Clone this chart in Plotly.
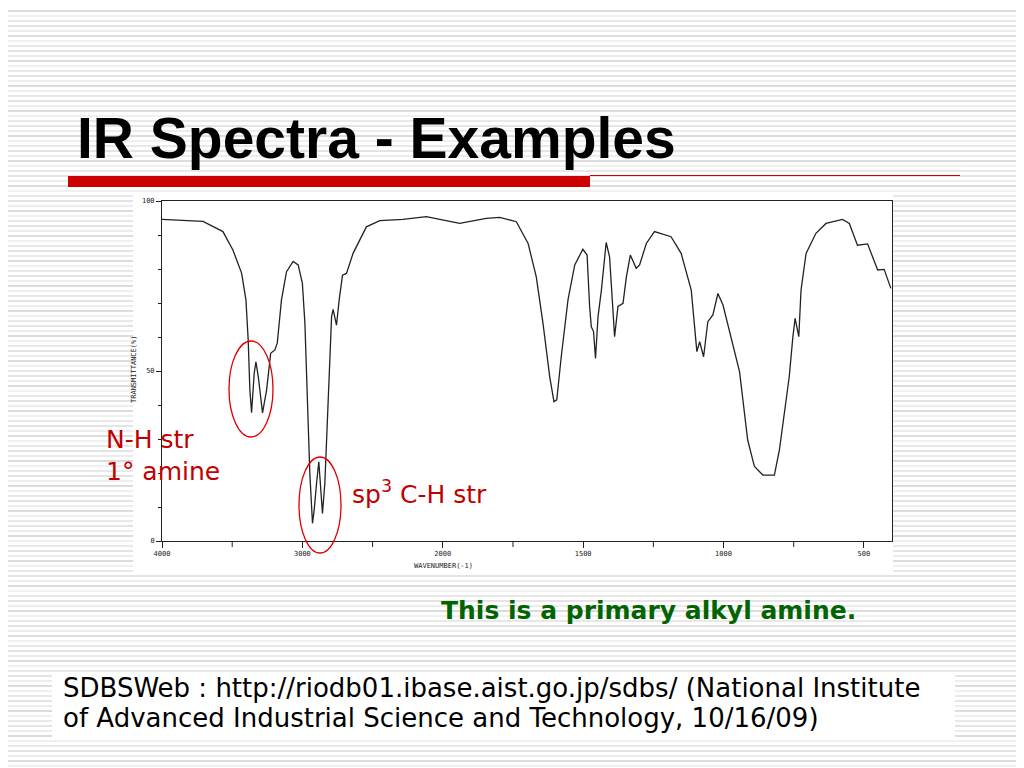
import plotly.graph_objects as go

# spectrum (wavenumber cm-1, transmittance %)
wavenumber = [4000, 3708, 3566, 3495, 3433, 3402, 3386, 3374, 3362, 3343, 3331, 3314, 3284, 3255,
              3226, 3196, 3179, 3149, 3113, 3066, 3030, 3000, 2982, 2966, 2947, 2928, 2916, 2899,
              2883, 2872, 2857, 2840, 2816, 2792, 2781, 2757, 2738, 2714, 2686, 2639, 2544, 2449,
              2283, 2117, 2021, 1940, 1845, 1797, 1738, 1696, 1667, 1643, 1619, 1604, 1594, 1578,
              1554, 1530, 1501, 1486, 1477, 1471, 1463, 1456, 1447, 1435, 1418, 1406, 1388, 1376,
              1358, 1346, 1332, 1311, 1299, 1275, 1246, 1187, 1151, 1115, 1095, 1085, 1071, 1056,
              1038, 1020, 1002, 973, 943, 914, 890, 860, 819, 801, 780, 766, 753, 745, 732, 724,
              706, 671, 635, 576, 552, 523, 487, 451, 428, 404]
transmittance = [94.6, 94.0, 91.0, 85.6, 78.8, 70.9, 59.0, 44.4, 37.7, 49.4, 52.7, 48.3, 37.7, 44.4,
                 55.2, 56.2, 58.2, 70.9, 79.2, 82.2, 81.2, 75.8, 64.0, 44.4, 19.9, 5.2, 9.1, 17.0,
                 23.3, 17.0, 8.1, 17.0, 44.4, 66.0, 68.1, 63.5, 70.9, 78.2, 78.7, 84.6, 92.4, 94.2,
                 94.6, 95.4, 94.6, 93.4, 94.9, 95.2, 93.9, 87.5, 77.7, 64.0, 48.3, 41.0, 41.5, 54.2,
                 70.9, 81.2, 85.8, 84.1, 69.0, 63.0, 61.6, 53.7, 66.0, 73.8, 87.8, 83.6, 60.1, 69.0,
                 69.9, 77.7, 84.1, 80.2, 81.2, 87.5, 91.0, 89.5, 84.6, 73.8, 55.7, 58.6, 54.2, 64.5,
                 66.5, 72.8, 69.4, 60.1, 49.8, 29.7, 21.9, 19.4, 19.4, 26.8, 39.5, 48.3, 60.1, 65.5,
                 60.1, 73.8, 84.6, 90.5, 93.4, 94.6, 93.4, 87.0, 87.4, 79.7, 79.9, 74.3]

x_ticks = [4000, 3000, 2000, 1500, 1000, 500]
minor_ticks = [3500, 2500, 1750, 1250, 750]
y_ticks = [0, 50, 100]


def pos(w):
    # SDBS charts switch scale at 2000 cm-1 (half compression above)
    return (4000 - w) / 2 if w >= 2000 else 1000 + (2000 - w)


L, T, W, H = 162, 201, 730, 340
OFF = 8  # page body margin


def px(x):
    return (x - L) / W


def py(y):
    return (T + H - y) / H


fig = go.Figure()
fig.add_trace(go.Scatter(x=[pos(w) for w in wavenumber], y=transmittance, mode="lines",
                         line=dict(color="#222", width=1.3), showlegend=False))

shapes = []
# striped slide background
greys = ["#e4e4e4", "#ececec", "#dcdcdc", "#f0f0f0", "#e8e8e8"]
for i, yy in enumerate(range(0, 768, 5)):
    shapes.append(dict(type="rect", xref="paper", yref="paper", layer="below",
                       x0=px(0), x1=px(1024), y0=py(yy + 2), y1=py(yy), line_width=0,
                       fillcolor=greys[i % len(greys)]))
# white panel behind spectrum
shapes.append(dict(type="rect", xref="paper", yref="paper", layer="below",
                   x0=px(133), x1=px(893), y0=py(572), y1=py(195), line_width=0, fillcolor="white"))
# red title bar and thin rule
shapes.append(dict(type="rect", xref="paper", yref="paper", x0=px(68), x1=px(590),
                   y0=py(187), y1=py(176), line_width=0, fillcolor="#cc0000"))
shapes.append(dict(type="line", xref="paper", yref="paper", x0=px(590), x1=px(960),
                   y0=py(175.5), y1=py(175.5), line=dict(color="#cc0000", width=1)))
# reference text box
shapes.append(dict(type="rect", xref="paper", yref="paper", layer="below", x0=px(52), x1=px(955),
                   y0=py(740), y1=py(672), line_width=0, fillcolor="white"))
# circled peaks
for cx, cy, rw, rh in [(251, 389, 22, 48), (320, 505, 21, 48)]:
    shapes.append(dict(type="circle", xref="paper", yref="paper", x0=px(cx - rw), x1=px(cx + rw),
                       y0=py(cy + rh), y1=py(cy - rh), line=dict(color="#e00000", width=1.3)))
# minor x ticks
for w in minor_ticks:
    shapes.append(dict(type="line", xref="x", yref="paper", x0=pos(w), x1=pos(w),
                       y0=0, y1=py(547), line=dict(color="#222", width=1)))

red = dict(family="DejaVu Sans", size=25, color="#c00000")
ann = [
    dict(x=px(75), y=py(138), text="<b>IR Spectra - Examples</b>", xanchor="left",
         font=dict(family="Liberation Sans", size=57, color="black")),
    dict(x=px(104), y=py(439), text="N-H str", xanchor="left", font=red),
    dict(x=px(104), y=py(471), text="1° amine", xanchor="left", font=red),
    dict(x=px(350), y=py(492), text="sp<sup>3</sup> C-H str", xanchor="left", font=red),
    dict(x=px(648), y=py(610), text="<b>This is a primary alkyl amine.</b>", xanchor="center",
         font=dict(family="DejaVu Sans", size=25, color="#006400")),
    dict(x=px(61), y=py(688), text="SDBSWeb : http://riodb01.ibase.aist.go.jp/sdbs/ (National Institute",
         xanchor="left", font=dict(family="DejaVu Sans", size=26, color="black")),
    dict(x=px(61), y=py(718), text="of Advanced Industrial Science and Technology, 10/16/09)",
         xanchor="left", font=dict(family="DejaVu Sans", size=26, color="black")),
    dict(x=px(443), y=py(566), text="WAVENUMBER(-1)", xanchor="center",
         font=dict(family="DejaVu Sans Mono", size=7, color="#222")),
    dict(x=px(134), y=py(370), text="TRANSMITTANCE(%)", textangle=-90, xanchor="center",
         font=dict(family="DejaVu Sans Mono", size=7, color="#222")),
]
for a in ann:
    a.update(xref="paper", yref="paper", showarrow=False, yanchor="middle")

fig.update_layout(
    width=1024, height=768,
    margin=dict(l=L - OFF, r=1024 - L - W + OFF, t=T - OFF, b=768 - T - H + OFF),
    paper_bgcolor="white", plot_bgcolor="rgba(0,0,0,0)",
    shapes=shapes, annotations=ann,
    xaxis=dict(range=[0, pos(400)], tickvals=[pos(w) for w in x_ticks], ticktext=[str(w) for w in x_ticks],
               showgrid=False, zeroline=False, showline=True, mirror=True, linecolor="#222",
               ticks="outside", ticklen=6, tickcolor="#222",
               tickfont=dict(family="DejaVu Sans Mono", size=7, color="#222")),
    yaxis=dict(range=[0, 100], tickvals=y_ticks, ticktext=["0", "50", "100"],
               showgrid=False, zeroline=False, showline=True, mirror=True, linecolor="#222",
               ticks="outside", ticklen=5, tickcolor="#222", minor=dict(dtick=10, ticks="outside", ticklen=3),
               tickfont=dict(family="DejaVu Sans Mono", size=7, color="#222")),
)

fig.write_html("out.html")
